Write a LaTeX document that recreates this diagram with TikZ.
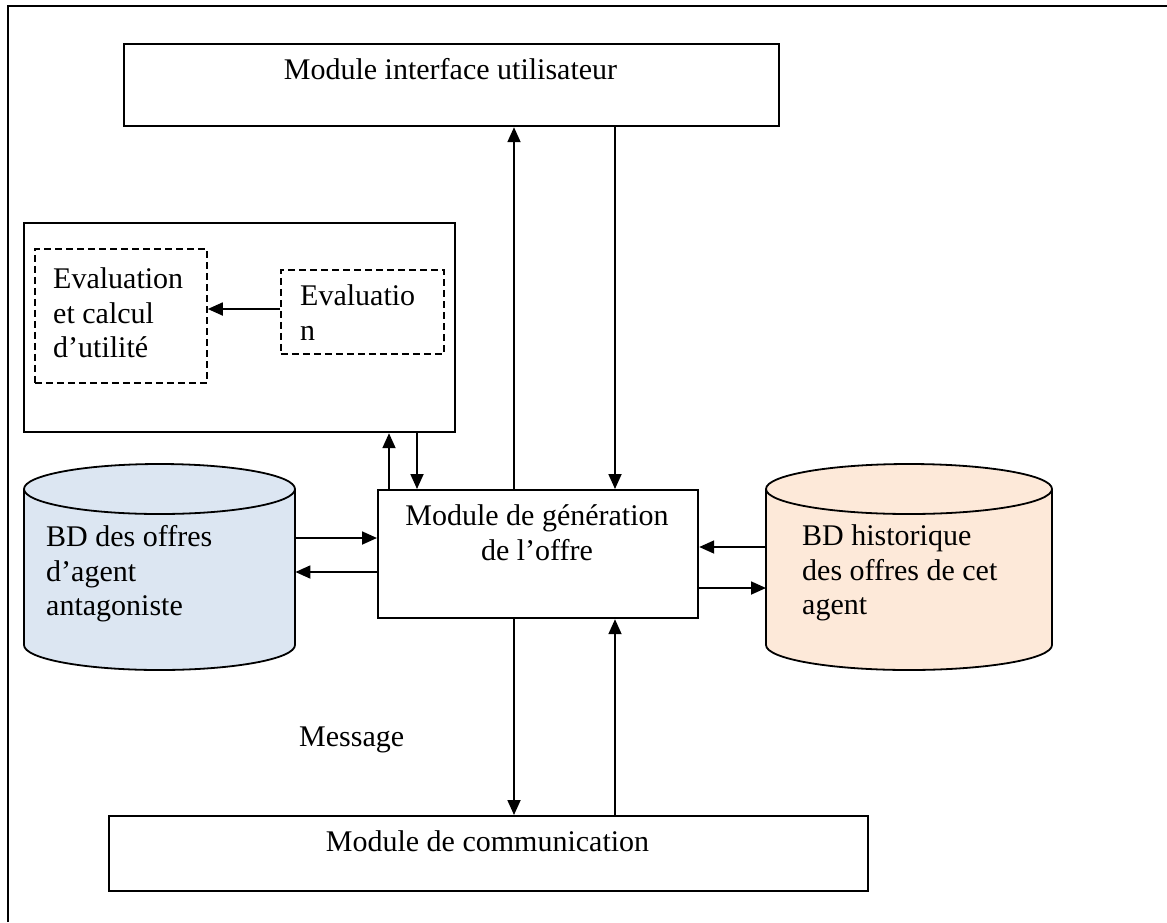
\documentclass[tikz,border=0pt]{standalone}
\usepackage{fontspec}
\setmainfont{Liberation Serif}
\usetikzlibrary{arrows.meta,calc}
\definecolor{dbblue}{HTML}{DCE6F2}
\definecolor{dbpeach}{HTML}{FDE9D9}
\tikzset{
  box/.style={draw, line width=2.2pt, inner sep=0pt, anchor=north west},
  dbox/.style={draw, line width=1.8pt, dash pattern=on 7pt off 4pt, inner sep=0pt, anchor=north west},
  area/.style={inner sep=0pt, anchor=north west},
  txt/.style={inner sep=0pt, font=\fontsize{30}{34.5}\selectfont},
  arr/.style={line width=1.8pt, -{Triangle[length=15pt,width=13pt]}},
  cylline/.style={line width=1.8pt}
}
\begin{document}
\begin{tikzpicture}[x=1pt,y=-1pt]
\useasboundingbox (0,0) rectangle (1167,922);
% outer frame
\draw[line width=2.4pt] (8,922) -- (8,6) -- (1167,6);

% boxes
\node[box, minimum width=655pt, minimum height=82pt] (ui) at (123,43) {};
\node[box, minimum width=431pt, minimum height=209pt] (eval) at (23,222) {};
\node[dbox, minimum width=172pt, minimum height=134pt] (evcalc) at (34,248) {};
\node[dbox, minimum width=163pt, minimum height=84pt] (evin) at (280,269) {};
\node[box, minimum width=320pt, minimum height=128pt] (gen) at (377,489) {};
\node[box, minimum width=759pt, minimum height=75pt] (com) at (108,815) {};

% databases
\node[area, minimum width=271pt, minimum height=206pt] (dbL) at (24,464) {};
\node[area, minimum width=286pt, minimum height=206pt] (dbR) at (766,464) {};
\foreach \xl/\xr/\col in {24/295/dbblue, 766/1052/dbpeach}{
  \pgfmathsetmacro{\rx}{(\xr-\xl)/2}
  \pgfmathsetmacro{\cx}{(\xr+\xl)/2}
  \fill[\col] (\xl,489) -- (\xl,645) arc[start angle=180,end angle=0,x radius=\rx,y radius=25]
     -- (\xr,489) arc[start angle=0,end angle=-180,x radius=\rx,y radius=25] -- cycle;
  \draw[cylline] (\xl,489) -- (\xl,645) arc[start angle=180,end angle=0,x radius=\rx,y radius=25] -- (\xr,489);
  \draw[cylline] (\cx,489) ellipse[x radius=\rx,y radius=25];
}

% texts
\node[txt, anchor=base] (tui) at (450.5,79) {Module interface utilisateur};
\node[txt, anchor=north west, align=left] (tcalc) at (53,267.5) {Evaluation\\et calcul\\d’utilité};
\node[txt, anchor=north west, align=left] (tin) at (300,284.5) {Evaluatio\\n};
\node[txt, anchor=north, align=center] (tgen) at (537,504.5) {Module de génération\\de l’offre};
\node[txt, anchor=north west, align=left] (tdbL) at (46,525.5) {BD des offres\\d’agent\\antagoniste};
\node[txt, anchor=north west, align=left] (tdbR) at (802,524.5) {BD historique\\des offres de cet\\agent};
\node[txt, anchor=base west] (tmsg) at (299,746) {Message};
\node[txt, anchor=base] (tcom) at (487.5,851) {Module de communication};

% connector positions
\coordinate (xA) at (514,0);
\coordinate (xB) at (615,0);
\coordinate (xC) at (389,0);
\coordinate (xD) at (417,0);
\coordinate (yE) at (0,309);
\coordinate (yF) at (0,538);
\coordinate (yG) at (0,572);
\coordinate (yH) at (0,547);
\coordinate (yI) at (0,588);

% connectors
\draw[arr] (gen.north -| xA) -- (ui.south -| xA);
\draw[arr] (ui.south -| xB) -- (gen.north -| xB);
\draw[arr] (gen.north -| xC) -- (eval.south -| xC);
\draw[arr] (eval.south -| xD) -- (gen.north -| xD);
\draw[arr] (evin.west |- yE) -- (evcalc.east |- yE);
\draw[arr] (dbL.east |- yF) -- (gen.west |- yF);
\draw[arr] (gen.west |- yG) -- (dbL.east |- yG);
\draw[arr] (dbR.west |- yH) -- (gen.east |- yH);
\draw[arr] (gen.east |- yI) -- (dbR.west |- yI);
\draw[arr] (gen.south -| xA) -- (com.north -| xA);
\draw[arr] (com.north -| xB) -- (gen.south -| xB);
\end{tikzpicture}
\end{document}
